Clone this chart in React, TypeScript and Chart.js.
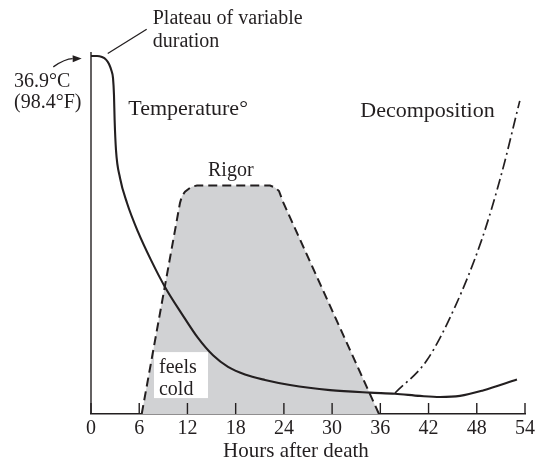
import { useEffect, useRef } from "react";
import { Chart, registerables } from "chart.js";

Chart.register(...registerables);

// ---- data (hours after death, relative level 0..100) ----
const xTickValues = [0, 6, 12, 18, 24, 30, 36, 42, 48, 54];

const temperatureHours = [0, 0.75, 1.37, 1.87, 2.24, 2.55, 2.74, 2.86, 2.94, 3.11, 3.61, 4.48, 5.85, 7.47, 9.2, 11.32, 13.31, 15.18, 17.05, 19.16, 21.65, 24.76, 29.74, 34.71, 37.83, 40.94, 43.42, 45.91, 48.77, 53.0];
const temperatureValues = [98.9, 98.9, 98.6, 97.9, 96.7, 94.8, 92.8, 88.1, 81.2, 72.9, 65.2, 58.3, 50.3, 42.5, 35.1, 27.6, 21.0, 16.2, 13.0, 10.9, 9.4, 8.0, 6.6, 5.9, 5.6, 5.0, 4.7, 5.0, 6.5, 9.5];

const rigorHours = [6.31, 11.07, 11.32, 11.7, 12.53, 13.19, 22.27, 22.89, 23.39, 23.89, 35.83];
const rigorValues = [0, 58.3, 60.2, 61.4, 62.8, 63.1, 63.1, 62.6, 61.6, 58.6, 0];

const decompositionHours = [37.83, 41.81, 45.29, 48.61, 51.1, 53.17, 53.35];
const decompositionValues = [5.8, 14.9, 29.6, 48.1, 66.5, 84.9, 86.5];

const xAxisTitle = "Hours after death";

// ---- annotation texts, anchored in data coordinates ----
const annotationTexts = [
  { text: "Plateau of variable", h: 7.68, v: 107.7, size: 20 },
  { text: "duration", h: 7.68, v: 101.5, size: 20 },
  { text: "36.9°C", h: -9.58, v: 90.3, size: 20 },
  { text: "(98.4°F)", h: -9.58, v: 84.4, size: 20 },
  { text: "Temperature°", h: 4.64, v: 82.6, size: 22 },
  { text: "Decomposition", h: 33.5, v: 82.0, size: 22 },
  { text: "Rigor", h: 14.56, v: 65.7, size: 20 },
];
const feelsColdBox = { h0: 7.84, h1: 14.56, v0: 17.1, v1: 4.4 };
const feelsColdLines = [
  { text: "feels", h: 8.46, v: 11.3 },
  { text: "cold", h: 8.46, v: 5.2 },
];
const leaderLine = { h0: 2.08, v0: 99.6, h1: 6.93, v1: 106.3 };
const arrowCurve = { h0: -4.69, v0: 95.9, hc: -3.23, vc: 98.1, h1: -1.16, v1: 98.2 };
const axisTitleAnchor = { h: 25.5, v: -11.9 };

const INK = "#231f20";
const FAMILY = '"Liberation Serif", "Times New Roman", serif';
const font = (s: number) => `${s}px ${FAMILY}`;

const overlayPlugin = {
  id: "overlay",
  afterDatasetDraw(chart: any, args: any) {
    if (args.index !== 2) return;
    const { ctx, scales } = chart;
    const px = (h: number) => scales.x.getPixelForValue(h);
    const py = (v: number) => scales.y.getPixelForValue(v);
    ctx.save();
    ctx.fillStyle = "#ffffff";
    const x0 = px(feelsColdBox.h0), x1 = px(feelsColdBox.h1);
    const y0 = py(feelsColdBox.v0), y1 = py(feelsColdBox.v1);
    ctx.fillRect(x0, y0, x1 - x0, y1 - y0);
    ctx.fillStyle = INK;
    ctx.font = font(20);
    ctx.textAlign = "left";
    ctx.textBaseline = "alphabetic";
    for (const t of feelsColdLines) ctx.fillText(t.text, px(t.h), py(t.v));
    ctx.restore();
  },
  afterDraw(chart: any) {
    const { ctx, scales, chartArea } = chart;
    const px = (h: number) => scales.x.getPixelForValue(h);
    const py = (v: number) => scales.y.getPixelForValue(v);
    ctx.save();
    ctx.strokeStyle = INK;
    ctx.lineWidth = 1.4;
    // vertical axis
    ctx.beginPath();
    ctx.moveTo(px(0), chartArea.top);
    ctx.lineTo(px(0), chartArea.bottom);
    ctx.stroke();
    // inward tick marks
    ctx.beginPath();
    for (const t of xTickValues) {
      ctx.moveTo(px(t), chartArea.bottom);
      ctx.lineTo(px(t), chartArea.bottom - 11);
    }
    ctx.stroke();
    // leader line
    ctx.lineWidth = 1.3;
    ctx.beginPath();
    ctx.moveTo(px(leaderLine.h0), py(leaderLine.v0));
    ctx.lineTo(px(leaderLine.h1), py(leaderLine.v1));
    ctx.stroke();
    // arrow
    const ax0 = px(arrowCurve.h0), ay0 = py(arrowCurve.v0);
    const axc = px(arrowCurve.hc), ayc = py(arrowCurve.vc);
    const ax1 = px(arrowCurve.h1), ay1 = py(arrowCurve.v1);
    const ang = Math.atan2(ay1 - ayc, ax1 - axc);
    const len = 9, half = 3.5;
    const bx = ax1 - Math.cos(ang) * len, by = ay1 - Math.sin(ang) * len;
    ctx.beginPath();
    ctx.moveTo(ax0, ay0);
    ctx.quadraticCurveTo(axc, ayc, bx, by);
    ctx.stroke();
    ctx.fillStyle = INK;
    ctx.beginPath();
    ctx.moveTo(ax1, ay1);
    ctx.lineTo(bx - Math.sin(ang) * half, by + Math.cos(ang) * half);
    ctx.lineTo(bx + Math.sin(ang) * half, by - Math.cos(ang) * half);
    ctx.closePath();
    ctx.fill();
    // texts
    ctx.textAlign = "left";
    ctx.textBaseline = "alphabetic";
    for (const t of annotationTexts) {
      ctx.font = font(t.size);
      ctx.fillText(t.text, px(t.h), py(t.v));
    }
    // axis title
    ctx.font = font(21);
    ctx.textAlign = "center";
    ctx.fillText(xAxisTitle, px(axisTitleAnchor.h), py(axisTitleAnchor.v));
    ctx.restore();
  },
};

export default function App() {
  const ref = useRef<HTMLCanvasElement | null>(null);
  useEffect(() => {
    if (!ref.current) return;
    const chart = new Chart(ref.current, {
      type: "line",
      data: {
        datasets: [
          {
            label: "Temperature",
            data: temperatureHours.map((h, i) => ({ x: h, y: temperatureValues[i] })),
            borderColor: INK,
            borderWidth: 2.1,
            pointRadius: 0,
            cubicInterpolationMode: "monotone",
            fill: false,
          },
          {
            label: "Decomposition",
            data: decompositionHours.map((h, i) => ({ x: h, y: decompositionValues[i] })),
            borderColor: INK,
            borderWidth: 1.7,
            borderDash: [11, 4, 2, 4],
            pointRadius: 0,
            cubicInterpolationMode: "monotone",
            fill: false,
            clip: false as any,
          },
          {
            label: "Rigor",
            data: rigorHours.map((h, i) => ({ x: h, y: rigorValues[i] })),
            borderColor: INK,
            borderWidth: 2,
            borderDash: [9, 5],
            backgroundColor: "#d1d2d4",
            pointRadius: 0,
            tension: 0,
            fill: "origin",
          },
        ],
      },
      options: {
        responsive: false,
        devicePixelRatio: 1,
        animation: false,
        layout: { padding: { left: 91, right: 16, top: 52, bottom: 7 } },
        plugins: { legend: { display: false }, tooltip: { enabled: false } },
        scales: {
          x: {
            type: "linear",
            min: 0,
            max: 54,
            afterBuildTicks: (scale: any) => {
              scale.ticks = xTickValues.map((v) => ({ value: v }));
            },
            afterFit: (scale: any) => {
              scale.height = 47;
            },
            grid: { display: false, drawTicks: false },
            border: { display: true, color: INK, width: 1.4 },
            ticks: {
              padding: 5,
              color: INK,
              font: { family: '"Liberation Serif"', size: 20, lineHeight: 1 },
              maxRotation: 0,
              autoSkip: false,
            },
            title: { display: false },
          },
          y: {
            type: "linear",
            min: 0,
            max: 100,
            display: false,
          },
        },
      },
      plugins: [overlayPlugin],
    });
    return () => chart.destroy();
  }, []);
  return (
    <div style={{ position: "fixed", left: 0, top: 0, width: 541, height: 468, background: "#fff" }}>
      <canvas ref={ref} width={541} height={468} style={{ display: "block", width: 541, height: 468 }} />
    </div>
  );
}
